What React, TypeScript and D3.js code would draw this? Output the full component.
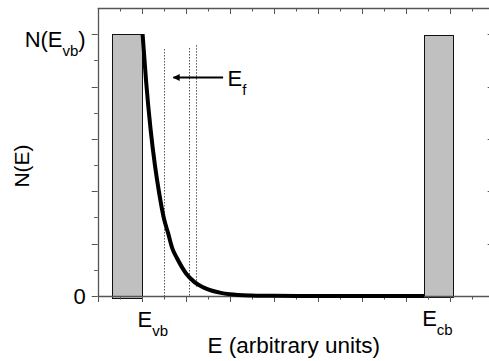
import React from "react";
import * as d3 from "d3";

// Data
const curveE = [1.02, 1.1, 1.2, 1.3, 1.4, 1.5, 1.6, 1.7, 1.8, 2.0, 2.2, 2.4, 2.6, 2.8, 3.0, 3.5, 4.0, 5.0, 6.0, 7.42];
const curveN = [1.0, 0.82, 0.64, 0.5, 0.39, 0.3, 0.24, 0.18, 0.145, 0.088, 0.053, 0.033, 0.02, 0.012, 0.007, 0.002, 0.0005, 0, 0, 0];

const bandNames = ["vb", "cb"];
const bandStart = [0.33, 7.42];
const bandEnd = [1.02, 8.08];
const bandTop = [1.0, 0.996];
const bandBottom = [-0.007, -0.003];

const dotX = [1.507, 2.07, 2.24];
const dotTop = [0.942, 0.946, 0.957];
const dotBottom = [0, 0, 0.035];

const arrowFrom = [2.85, 0.836];
const arrowTo = [1.72, 0.836];

const xMajor = d3.range(0, 9.01, 1);
const xMinor = d3.range(0.5, 9, 1);
const yMajor = [0, 0.2, 0.4, 0.6, 0.8, 1.0];
const yMinor = [0.1, 0.3, 0.5, 0.7, 0.9];

const FONT = "'Liberation Sans', Arial, Helvetica, sans-serif";

export default function App() {
  const W = 489, H = 361;
  const x = d3.scaleLinear().domain([0, 9]).range([97.7, 493.7]);
  const y = d3.scaleLinear().domain([0, 1.1]).range([296, 8]);
  const x0 = x(0), x1 = x(9), y0 = y(0), y1 = y(1.1);
  const px = (v: number) => Math.round(v) + 0.5;

  const pts = curveE.map((e, i) => [e, curveN[i]] as [number, number]);
  const line = d3.line<[number, number]>().x(d => x(d[0])).y(d => y(d[1])).curve(d3.curveMonotoneX);

  const axisColor = "#555";
  const fs = 22;
  const sub = 15;

  return (
    <svg width={W} height={H} style={{ position: "absolute", left: 0, top: 0, background: "#fff" }} fontFamily={FONT}>
      <defs>
        <marker id="ah" viewBox="0 0 10 10" refX="9" refY="5" markerWidth="4.5" markerHeight="3.5" orient="auto" markerUnits="strokeWidth">
          <path d="M0,0 L10,5 L0,10 z" fill="#000" />
        </marker>
      </defs>
      {/* bars */}
      {bandNames.map((b, i) => (
        <rect key={b} x={px(x(bandStart[i]))} y={px(y(bandTop[i]))} width={Math.round(x(bandEnd[i]) - x(bandStart[i]))}
          height={Math.round(y(bandBottom[i]) - y(bandTop[i]))} fill="#c0c0c0" stroke="#111" strokeWidth={1} />
      ))}
      {/* dotted lines */}
      {dotX.map((d, i) => (
        <line key={i} x1={px(x(d))} x2={px(x(d))} y1={y(dotTop[i])} y2={y(dotBottom[i])} stroke="#000" strokeWidth={1} strokeDasharray="1,2" />
      ))}
      {/* axes frame */}
      <line x1={px(x0)} x2={px(x0)} y1={y1} y2={y0} stroke={axisColor} strokeWidth={1.3} />
      <line x1={x1} x2={x1} y1={y1} y2={y0} stroke={axisColor} strokeWidth={1.3} />
      <line x1={x0} x2={x1} y1={px(y0)} y2={px(y0)} stroke={axisColor} strokeWidth={1.3} />
      <line x1={x0} x2={x1} y1={px(y1)} y2={px(y1)} stroke={axisColor} strokeWidth={1.3} />
      {xMajor.map(v => (
        <g key={"xm" + v}>
          <line x1={px(x(v))} x2={px(x(v))} y1={y0} y2={y0 + 6} stroke={axisColor} strokeWidth={1} />
          <line x1={px(x(v))} x2={px(x(v))} y1={y1} y2={y1 + 6} stroke={axisColor} strokeWidth={1} />
        </g>
      ))}
      {xMinor.map(v => (
        <g key={"xn" + v}>
          <line x1={px(x(v))} x2={px(x(v))} y1={y0} y2={y0 + 3.5} stroke={axisColor} strokeWidth={1} />
          <line x1={px(x(v))} x2={px(x(v))} y1={y1} y2={y1 + 3.5} stroke={axisColor} strokeWidth={1} />
        </g>
      ))}
      {yMajor.map(v => (
        <g key={"ym" + v}>
          <line x1={x0 - 6} x2={x0} y1={px(y(v))} y2={px(y(v))} stroke={axisColor} strokeWidth={1} />
          <line x1={x1 - 6} x2={x1} y1={px(y(v))} y2={px(y(v))} stroke={axisColor} strokeWidth={1} />
        </g>
      ))}
      {yMinor.map(v => (
        <g key={"yn" + v}>
          <line x1={x0 - 3.5} x2={x0} y1={px(y(v))} y2={px(y(v))} stroke={axisColor} strokeWidth={1} />
          <line x1={x1 - 3.5} x2={x1} y1={px(y(v))} y2={px(y(v))} stroke={axisColor} strokeWidth={1} />
        </g>
      ))}
      {/* curve */}
      <path d={line(pts) || ""} fill="none" stroke="#000" strokeWidth={4} />
      {/* arrow */}
      <line x1={x(arrowFrom[0])} y1={px(y(arrowFrom[1]))} x2={x(arrowTo[0])} y2={px(y(arrowTo[1]))} stroke="#000" strokeWidth={2} markerEnd="url(#ah)" />
      <text x={x(arrowFrom[0]) + 4.5} y={y(arrowFrom[1]) + 9} fontSize={fs}>
        E<tspan fontSize={sub} dy={9}>f</tspan>
      </text>
      {/* y tick labels */}
      <text x={x0 - 12} y={y(0) + 7.5} fontSize={fs} textAnchor="end">0</text>
      <text x={x0 - 12} y={y(1) + 12.5} fontSize={fs} textAnchor="end">
        N(E<tspan fontSize={sub} dy={9}>vb</tspan><tspan dy={-9}>)</tspan>
      </text>
      {/* x band labels */}
      <text x={x(bandEnd[0]) - 5} y={326.5} fontSize={fs}>
        E<tspan fontSize={sub} dy={9}>vb</tspan>
      </text>
      <text x={x(bandStart[1]) - 2} y={325.5} fontSize={fs}>
        E<tspan fontSize={sub} dy={9}>cb</tspan>
      </text>
      {/* titles */}
      <text x={(x0 + x1) / 2 - 2} y={353} fontSize={22.5} textAnchor="middle">E (arbitrary units)</text>
      <text transform={`translate(29,166) rotate(-90)`} fontSize={21} textAnchor="middle">N(E)</text>
    </svg>
  );
}
